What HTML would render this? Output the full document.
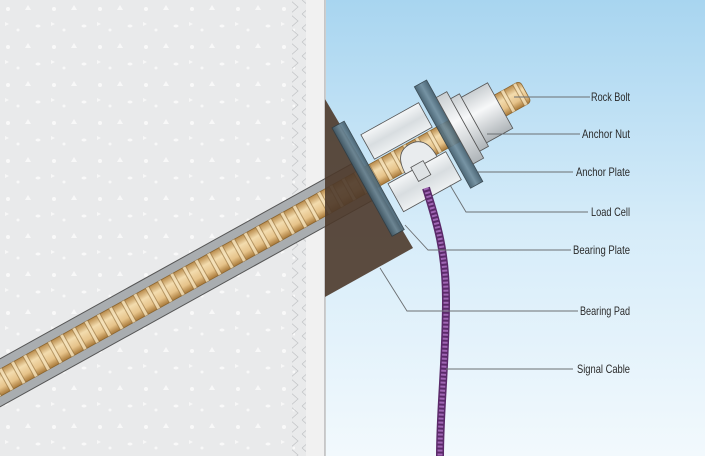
<!DOCTYPE html>
<html><head><meta charset="utf-8"><style>
html,body{margin:0;padding:0;width:705px;height:456px;overflow:hidden;background:#fff}
svg{display:block}
text{font-family:"Liberation Sans",sans-serif;font-size:12px;fill:#2a2a2a}
</style></head><body>
<svg width="705" height="456" viewBox="0 0 705 456" xmlns="http://www.w3.org/2000/svg">
<defs>
<linearGradient id="sky" x1="0" y1="0" x2="0" y2="1">
<stop offset="0" stop-color="#a8d5f0"/><stop offset="0.5" stop-color="#d6ecf9"/><stop offset="1" stop-color="#f2f9fd"/></linearGradient>
<linearGradient id="bolt" x1="0" y1="0" x2="0" y2="1">
<stop offset="0" stop-color="#b88a4a"/><stop offset="0.35" stop-color="#f3dcae"/><stop offset="0.7" stop-color="#e6c38a"/><stop offset="1" stop-color="#a87838"/></linearGradient>
<linearGradient id="steel" x1="0" y1="0" x2="1" y2="0">
<stop offset="0" stop-color="#3f5968"/><stop offset="0.5" stop-color="#6f8c9c"/><stop offset="1" stop-color="#3f5968"/></linearGradient>
<linearGradient id="cell" x1="0" y1="0" x2="0" y2="1">
<stop offset="0" stop-color="#f4f6f7"/><stop offset="0.5" stop-color="#d8dde0"/><stop offset="1" stop-color="#eef1f2"/></linearGradient>
<linearGradient id="nut" x1="0" y1="0" x2="0" y2="1">
<stop offset="0" stop-color="#c9ced1"/><stop offset="0.4" stop-color="#f7f8f9"/><stop offset="1" stop-color="#aeb4b8"/></linearGradient>
<pattern id="ribs" patternUnits="userSpaceOnUse" width="14" height="40" x="0" y="-20">
<rect x="5" y="0" width="4" height="40" fill="#f5e3bd" stroke="#8a6530" stroke-width="0.7" rx="2"/>
</pattern>
<pattern id="hatch" patternUnits="userSpaceOnUse" width="12" height="14">
<path d="M2 0 L10 7 L2 14" fill="none" stroke="#c4c6c8" stroke-width="0.8"/>
</pattern>
<pattern id="dots" patternUnits="userSpaceOnUse" width="46" height="38">
<circle cx="8" cy="9" r="2" fill="#f9f9f9"/><path d="M28 5 l3 5 h-6z" fill="#f8f8f8"/><ellipse cx="38" cy="26" rx="2.5" ry="1.5" fill="#f9f9f9"/><circle cx="18" cy="30" r="1.5" fill="#f8f8f8"/><path d="M5 22 l4 2 -4 2z" fill="#f7f7f7"/>
</pattern>
</defs>
<rect x="0" y="0" width="325" height="456" fill="#e9eaeb"/>
<rect x="0" y="0" width="295" height="456" fill="url(#dots)"/>
<rect x="292" y="0" width="14" height="456" fill="url(#hatch)"/>
<rect x="306" y="0" width="19" height="456" fill="#f1f1f1"/>
<line x1="325" y1="0" x2="325" y2="456" stroke="#9a9c9e" stroke-width="1"/>
<rect x="326" y="0" width="379" height="456" fill="url(#sky)"/>

<g transform="translate(355,186) rotate(-29)">
 <rect x="-520" y="-21" width="530" height="42" fill="#a9adb0" stroke="#555" stroke-width="1"/>
 <rect x="-520" y="-12" width="715" height="24" rx="4" fill="url(#bolt)" stroke="#8a6530" stroke-width="0.8"/>
 <rect x="-520" y="-12" width="715" height="24" fill="url(#ribs)" opacity="0.8"/>
</g>
<polygon points="325,99 413,248 325,297" fill="#4d382a" opacity="0.9"/>
<g transform="translate(355,186) rotate(-29)">
 <rect x="30" y="-42" width="66" height="28" fill="url(#cell)" stroke="#555" stroke-width="0.8"/>
 <rect x="30" y="14" width="66" height="32" fill="url(#cell)" stroke="#555" stroke-width="0.8"/>
 <path d="M50 14 q0 -24 18 -24 q18 0 18 24z" fill="#e9ecee" stroke="#555" stroke-width="0.8"/>
 <rect x="8" y="-62" width="14" height="124" fill="url(#steel)" stroke="#2f3d45" stroke-width="0.8" opacity="0.9"/>
 <rect x="100" y="-58" width="14" height="116" fill="url(#steel)" stroke="#2f3d45" stroke-width="0.8" opacity="0.9"/>
 <rect x="114" y="-38" width="12" height="76" fill="url(#nut)" stroke="#555" stroke-width="0.8"/>
 <rect x="126" y="-30" width="10" height="60" fill="url(#nut)" stroke="#555" stroke-width="0.8"/>
 <rect x="136" y="-26" width="30" height="52" fill="url(#nut)" stroke="#555" stroke-width="0.8"/>
</g>
<path d="M426 188 C436 220 446 250 446 300 C446 360 440 410 440 456" fill="none" stroke="#5b2a6a" stroke-width="8"/>
<path d="M426 188 C436 220 446 250 446 300 C446 360 440 410 440 456" fill="none" stroke="#a066b4" stroke-width="5" stroke-dasharray="2 2"/>
<g transform="translate(418,168) rotate(-29)">
 <rect x="-6" y="-4" width="14" height="16" fill="#dfe3e5" stroke="#555" stroke-width="0.8"/>
</g>
<g fill="none" stroke="#6b6f72" stroke-width="0.9">
 <path d="M514 97 H590"/>
 <path d="M487 134 H580"/>
 <path d="M478 172 H573"/>
 <path d="M450 185 L466 212 H588"/>
 <path d="M405 225 L428 250 H571"/>
 <path d="M380 268 L407 311 H578"/>
 <path d="M446 369 H573"/>
</g>
<g>
 <text x="591" y="101" textLength="39" lengthAdjust="spacingAndGlyphs">Rock Bolt</text>
 <text x="582" y="138" textLength="48" lengthAdjust="spacingAndGlyphs">Anchor Nut</text>
 <text x="576" y="176" textLength="54" lengthAdjust="spacingAndGlyphs">Anchor Plate</text>
 <text x="591" y="216" textLength="39" lengthAdjust="spacingAndGlyphs">Load Cell</text>
 <text x="573" y="254" textLength="57" lengthAdjust="spacingAndGlyphs">Bearing Plate</text>
 <text x="580" y="315" textLength="50" lengthAdjust="spacingAndGlyphs">Bearing Pad</text>
 <text x="577" y="373" textLength="53" lengthAdjust="spacingAndGlyphs">Signal Cable</text>
</g>
</svg>
</body></html>
